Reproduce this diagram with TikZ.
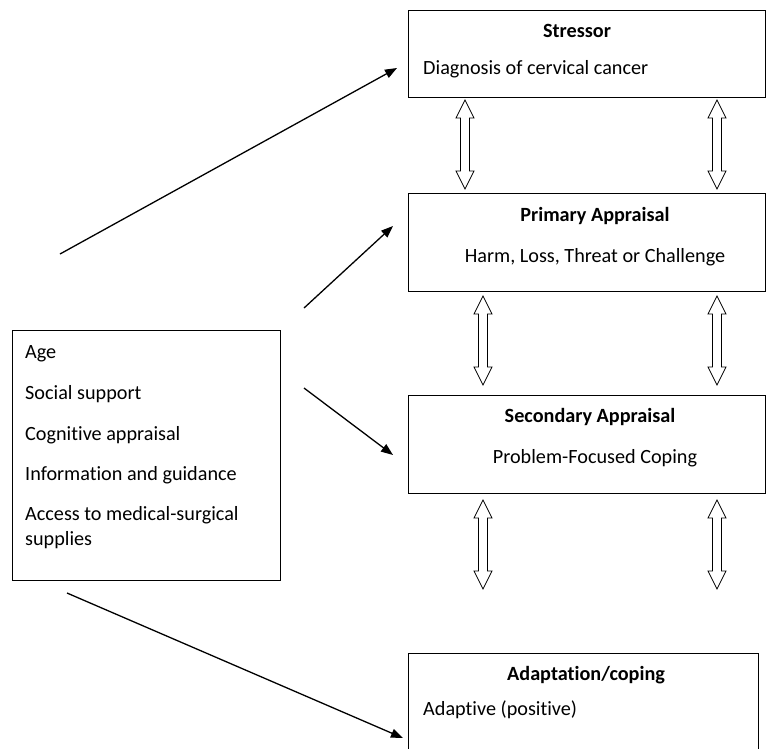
\documentclass[tikz,border=0pt]{standalone}
\usepackage{fontspec}
\setmainfont{Carlito}[Ligatures={NoCommon}]
\usetikzlibrary{arrows.meta, positioning}
\newcommand{\diagsize}{\fontsize{20.2}{25}\selectfont}

\begin{document}
\begin{tikzpicture}[x=1pt, y=-1pt,
    box/.style={rectangle, draw, line width=1.1pt, anchor=north west, inner sep=0pt},
    ttl/.style={font=\diagsize\bfseries, anchor=base, inner sep=0pt},
    txt/.style={font=\diagsize, anchor=base west, inner sep=0pt},
    ctxt/.style={font=\diagsize, anchor=base, inner sep=0pt},
    arr/.style={-{Triangle[length=12pt, width=9pt]}, line width=1.3pt},
    updown/.pic={\draw[line width=0.8pt] (0,0) -- (9,18) -- (4.5,18) -- (4.5,71)
        -- (9,71) -- (0,89) -- (-9,71) -- (-4.5,71) -- (-4.5,18) -- (-9,18) -- cycle;}
]
\useasboundingbox (0,0) rectangle (767,748);
% boxes on the right
\node[box, minimum width=357pt, minimum height=87pt] (stressor) at (408,10) {};
\node[box, minimum width=357pt, minimum height=98pt] (primary) at (408,193) {};
\node[box, minimum width=357pt, minimum height=98pt] (secondary) at (408,395) {};
\node[box, minimum width=350pt, minimum height=120pt] (adapt) at (408,653) {};
% factors box on the left
\node[box, minimum width=268pt, minimum height=250pt] (factors) at (12,330) {};

\node[ttl] (stressorT) at (577,37) {Stressor};
\node[txt] (stressorB) at (423,74) {Diagnosis of cervical cancer};
\node[ttl] (primaryT) at (595,221) {Primary Appraisal};
\node[ctxt] (primaryB) at (595,262) {Harm, Loss, Threat or Challenge};
\node[ttl] (secondaryT) at (590,422) {Secondary Appraisal};
\node[ctxt] (secondaryB) at (595,463) {Problem-Focused Coping};
\node[ttl] (adaptT) at (586,680) {Adaptation/coping};
\node[txt] (adaptB) at (423,715) {Adaptive (positive)};

\foreach \t [count=\i] /\y in {Age/358, Social support/399, Cognitive appraisal/440,
    Information and guidance/480, Access to medical-surgical/520, supplies/545}
    \node[txt] (f\i) at (25,\y) {\t};

% hollow double arrows between the stages
\foreach \x/\y in {465/100, 717/100, 483/296, 717/296, 483/500, 717/500}
    \pic at (\x,\y) {updown};

% influence arrows
\coordinate (a1s) at (60,254);  \coordinate (a1e) at (397,68);
\coordinate (a2s) at (304,308); \coordinate (a2e) at (393,226);
\coordinate (a3s) at (304,388); \coordinate (a3e) at (393,455);
\coordinate (a4s) at (67,593);  \coordinate (a4e) at (403,738);
\draw[arr] (a1s) -- (a1e);
\draw[arr] (a2s) -- (a2e);
\draw[arr] (a3s) -- (a3e);
\draw[arr] (a4s) -- (a4e);
\end{tikzpicture}
\end{document}
